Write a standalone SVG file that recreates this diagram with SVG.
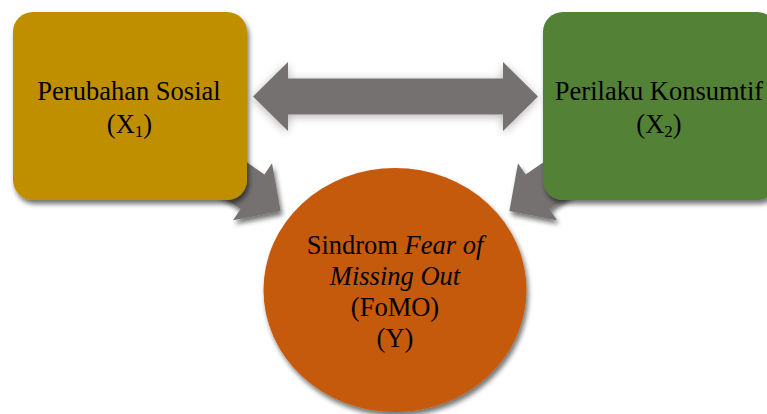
<svg xmlns="http://www.w3.org/2000/svg" width="767" height="414" viewBox="0 0 767 414">
  <defs>
    <filter id="shadow" x="-20%" y="-20%" width="150%" height="150%">
      <feGaussianBlur in="SourceAlpha" stdDeviation="2.5"/>
      <feOffset dx="2" dy="4" result="b"/>
      <feComponentTransfer><feFuncA type="linear" slope="0.55"/></feComponentTransfer>
      <feMerge><feMergeNode/><feMergeNode in="SourceGraphic"/></feMerge>
    </filter>
    <filter id="glow" x="-20%" y="-50%" width="140%" height="200%">
      <feGaussianBlur in="SourceAlpha" stdDeviation="5"/>
      <feOffset dx="0" dy="2" result="b"/>
      <feComponentTransfer><feFuncA type="linear" slope="0.3"/></feComponentTransfer>
      <feMerge><feMergeNode/><feMergeNode in="SourceGraphic"/></feMerge>
    </filter>
  </defs>
  <style>
    .t { font-family: 'Liberation Serif', serif; font-size: 26.5px; fill: #000; text-anchor: middle; }
    .sub { font-size: 17px; }
    .arrow { fill: #767171; }
  </style>
  <rect width="767" height="414" fill="#ffffff"/>

  <g id="connectors">
    <polygon class="arrow" filter="url(#shadow)" points="165.4,106.7 264.4,174.5 272,163.3 280.6,211 233,220.3 240.6,209.1 141.6,141.3"/>
    <polygon class="arrow" filter="url(#shadow)" points="624.6,106.7 525.6,174.5 518,163.3 509.4,211 557,220.3 549.4,209.1 648.4,141.3"/>
  </g>

  <g id="node-y">
    <ellipse cx="395" cy="290" rx="131.5" ry="122" fill="#C55A11" filter="url(#shadow)"/>
    <text class="t" font-family="'Liberation Serif', serif" x="395" y="254">Sindrom <tspan font-style="italic">Fear of</tspan></text>
    <text class="t" font-family="'Liberation Serif', serif" x="395" y="285" font-style="italic">Missing Out</text>
    <text class="t" font-family="'Liberation Serif', serif" x="395" y="316">(FoMO)</text>
    <text class="t" font-family="'Liberation Serif', serif" x="395" y="347">(Y)</text>
  </g>

  <g id="node-x1">
    <rect x="13" y="12" width="234" height="188" rx="20" ry="20" fill="#BF8F00" filter="url(#shadow)"/>
    <text class="t" font-family="'Liberation Serif', serif" x="129" y="100">Perubahan Sosial</text>
    <text class="t" font-family="'Liberation Serif', serif" x="129.5" y="133">(X<tspan class="sub" dy="4">1</tspan><tspan dy="-4">)</tspan></text>
  </g>

  <g id="node-x2">
    <rect x="543" y="12" width="234" height="188" rx="20" ry="20" fill="#538135" filter="url(#shadow)"/>
    <text class="t" font-family="'Liberation Serif', serif" x="659" y="100">Perilaku Konsumtif</text>
    <text class="t" font-family="'Liberation Serif', serif" x="659" y="133">(X<tspan class="sub" dy="4">2</tspan><tspan dy="-4">)</tspan></text>
  </g>

  <g id="connector-double">
    <polygon class="arrow" filter="url(#glow)" points="253,96.5 288,62 288,78.5 503,78.5 503,62 538,96.5 503,131 503,114.5 288,114.5 288,131"/>
  </g>
</svg>
